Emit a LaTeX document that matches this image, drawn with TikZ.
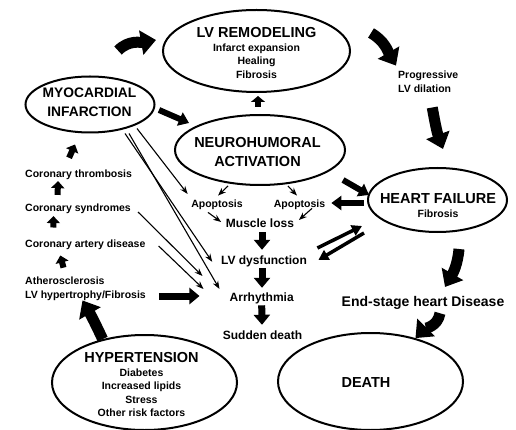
\documentclass[tikz,border=0pt]{standalone}
\usepackage{fontspec}
\setmainfont{Liberation Sans}
\usetikzlibrary{shapes.geometric,arrows.meta}
\newcommand{\titletext}[1]{{\fontsize{14.5}{14}\selectfont #1}}
\tikzset{
	oval/.style={draw,ellipse,line width=2pt,inner sep=0pt},
	heading/.style={font=\bfseries\fontsize{14.5}{19.5}\selectfont,align=center,inner sep=1pt},
	note/.style={font=\bfseries\fontsize{10.5}{13.5}\selectfont,align=center,inner sep=1pt},
	midlabel/.style={font=\bfseries\fontsize{12}{14}\selectfont,inner sep=1pt},
	bigarrow/.style={line width=11pt,-{Triangle[length=15pt,width=24pt]}},
	fatarrow/.style={line width=7pt,-{Triangle[length=10pt,width=16pt]}},
	midarrow/.style={line width=6pt,-{Triangle[length=10pt,width=14pt]}},
	slimarrow/.style={line width=3.5pt,-{Triangle[length=10pt,width=11pt]}},
	smallarrow/.style={line width=6pt,-{Triangle[length=7pt,width=13pt]}},
	thinarrow/.style={line width=1.1pt,-{Stealth[length=8pt,width=6pt]}}
}
\begin{document}
\begin{tikzpicture}[x=1pt,y=-1pt]
	\useasboundingbox (0,0) rectangle (516,430);
	\node[oval,minimum width=129pt,minimum height=56pt] (mi) at (90,104.5) {};
	\node[oval,minimum width=187pt,minimum height=82pt] (lvr) at (256.5,51) {};
	\node[oval,minimum width=170pt,minimum height=70pt] (neuro) at (260,150) {};
	\node[oval,minimum width=139pt,minimum height=64pt] (hf) at (437.5,200) {};
	\node[oval,minimum width=185pt,minimum height=95pt] (hyp) at (144.5,382.5) {};
	\node[oval,minimum width=185pt,minimum height=97pt] (death) at (370.5,381.5) {};

	\node[note] (lvrtxt) at (256.5,53) {\titletext{LV REMODELING}\\Infarct expansion\\Healing\\Fibrosis};
	\node[heading,font=\bfseries\fontsize{13.8}{19.5}\selectfont] (mitxt) at (89.5,102.5) {MYOCARDIAL\\INFARCTION};
	\node[heading] (neurotxt) at (257.5,152) {NEUROHUMORAL\\ACTIVATION};
	\node[note] (hftxt) at (438,205.5) {\titletext{HEART FAILURE}\\Fibrosis};
	\node[note] (hyptxt) at (141.5,384.5) {\titletext{HYPERTENSION}\\Diabetes\\Increased lipids\\Stress\\Other risk factors};
	\node[heading] (deathtxt) at (366,382.5) {DEATH};
	\node[heading,font=\bfseries\fontsize{14}{17}\selectfont] (endst) at (423,302.5) {End-stage heart Disease};
	\node[note,align=left,anchor=west] (prog) at (397,81.7) {Progressive\\LV dilation};

	\node[note,anchor=west] (cthr) at (24,174.7) {Coronary thrombosis};
	\node[note,anchor=west] (csyn) at (24,209) {Coronary syndromes};
	\node[note,anchor=west] (cad) at (24,244.6) {Coronary artery disease};
	\node[note,align=left,anchor=west] (athero) at (24,288.8) {Atherosclerosis\\LV hypertrophy/Fibrosis};

	\node[note] (apl) at (217,204.4) {Apoptosis};
	\node[note] (apr) at (299.5,204.4) {Apoptosis};
	\node[midlabel] (muscle) at (260,223.6) {Muscle loss};
	\node[midlabel] (lvdys) at (264,261.8) {LV dysfunction};
	\node[midlabel] (arr) at (261.7,298.5) {Arrhythmia};
	\node[midlabel] (sudden) at (262.5,335.6) {Sudden death};

	\draw[bigarrow] ([xshift=28pt,yshift=25pt]mi.north) to[out=45,in=190] ([xshift=-6pt,yshift=11pt]lvr.west);
	\draw[bigarrow] ([xshift=20pt,yshift=18pt]lvr.east) to[out=-30,in=120] ([xshift=-1pt,yshift=4.3pt]prog.north west);
	\draw[bigarrow] ([xshift=4pt,yshift=-14pt]prog.south) to[out=-80,in=110] ([xshift=5.5pt,yshift=18pt]hf.north);
	\draw[bigarrow] ([xshift=21.5pt,yshift=-16pt]hf.south) to[out=-95,in=60] ([xshift=22pt,yshift=7.8pt]endst.north);
	\draw[bigarrow] ([xshift=17pt,yshift=-3pt]endst.south) to[out=-100,in=45] (death.44);
	\draw[bigarrow] (hyp.134) to[out=115,in=-60] ([xshift=-3pt,yshift=1.2pt]athero.south);

	\draw[midarrow,-{Triangle[length=6pt,width=14pt]}] ([xshift=-2pt,yshift=7pt]neuro.north) -- ([xshift=1.5pt,yshift=-3pt]lvr.south);
	\draw[midarrow] ([xshift=3.5pt,yshift=-5.5pt]mi.east) -- ([xshift=15pt,yshift=27pt]neuro.west);
	\draw[midarrow] ([xshift=-3pt,yshift=-30pt]neuro.east) -- ([xshift=2pt,yshift=5pt]hf.west);
	\draw[midarrow] ([xshift=-3pt,yshift=-3pt]hf.west) -- ([xshift=5pt,yshift=1.4pt]apr.east);

	\draw[thinarrow] ([xshift=-32pt]neuro.south) -- ([xshift=1pt,yshift=2.7pt]apl.north);
	\draw[thinarrow] ([xshift=28pt]neuro.south) -- ([xshift=-2.5pt,yshift=2.7pt]apr.north);
	\draw[thinarrow] ([xshift=-9pt,yshift=-1.9pt]apl.south) -- ([xshift=-3.7pt,yshift=1.6pt]muscle.west);
	\draw[thinarrow] ([xshift=12.5pt,yshift=2.1pt]apr.south) -- ([xshift=3.7pt,yshift=3.6pt]muscle.east);

	\draw[fatarrow] ([xshift=2pt,yshift=-3pt]muscle.south) -- ([xshift=-2pt,yshift=5.2pt]lvdys.north);
	\draw[fatarrow] ([xshift=-2pt,yshift=0.5pt]lvdys.south) -- ([xshift=0.3pt,yshift=3.9pt]arr.north);
	\draw[fatarrow] (arr.south) -- ([xshift=-0.5pt,yshift=5.2pt]sudden.north);

	\draw[slimarrow] ([xshift=9.3pt,yshift=13.8pt]lvdys.east) -- ([xshift=-5pt,yshift=-26pt]hf.west);
	\draw[slimarrow] ([xshift=-3pt,yshift=-33pt]hf.west) -- ([xshift=10.3pt,yshift=1.8pt]lvdys.east);

	\draw[thinarrow] ([xshift=47pt,yshift=5pt]mi.south) -- ([xshift=-2.5pt,yshift=10.4pt]apl.west);
	\draw[thinarrow] ([xshift=35pt]mi.south) -- ([xshift=-7.7pt]lvdys.west);
	\draw[thinarrow] ([xshift=39pt]mi.south) -- ([xshift=-9pt,yshift=9.5pt]arr.west);
	\draw[thinarrow] ([xshift=6pt,yshift=-3pt]csyn.east) -- ([xshift=-26pt,yshift=22.5pt]arr.west);
	\draw[thinarrow] ([xshift=12pt,yshift=-1.4pt]cad.east) -- ([xshift=-25pt,yshift=9.5pt]arr.west);
	\draw[fatarrow] ([xshift=12pt,yshift=-7.2pt]athero.east) -- ([xshift=-29pt,yshift=2.5pt]arr.west);

	\draw[smallarrow] ([xshift=-22pt,yshift=8.3pt]athero.north) -- ([xshift=-25pt,yshift=-4.8pt]cad.south);
	\draw[smallarrow] ([xshift=-32pt,yshift=11pt]cad.north) -- ([xshift=-24.5pt,yshift=-1pt]csyn.south);
	\draw[smallarrow] ([xshift=-20.5pt,yshift=8pt]csyn.north) -- ([xshift=-20.5pt,yshift=-0.3pt]cthr.south);
	\draw[smallarrow] ([xshift=-9.5pt,yshift=10.8pt]cthr.north) -- ([xshift=-15pt,yshift=-11pt]mi.south);
\end{tikzpicture}
\end{document}
